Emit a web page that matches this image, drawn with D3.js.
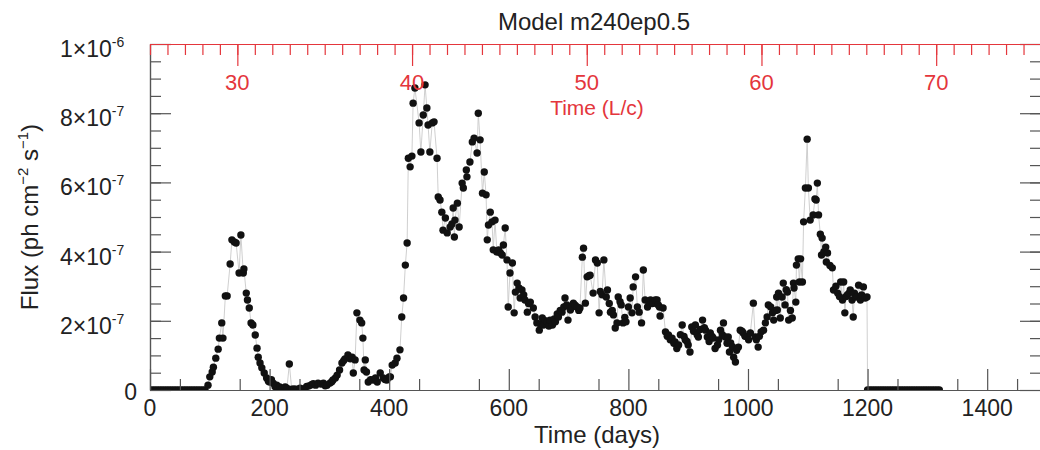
<!DOCTYPE html>
<html>
<head>
<meta charset="utf-8">
<script src="https://cdn.jsdelivr.net/npm/d3@7"></script>
<style>
body { margin: 0; background: #fff; }
text { font-family: "Liberation Sans", Arial, Helvetica, sans-serif; }
</style>
</head>
<body>
<svg id="chart" width="1040" height="450"></svg>
<script>
// light curve: time in days, flux in units of 1e-7 ph cm^-2 s^-1
var days = [
	0, 4, 8, 12, 16, 20, 24, 28, 32, 36, 40, 44, 48, 52, 56, 60, 64, 68, 72, 76, 80, 84, 88, 92,
	97, 100, 104, 106, 110, 114, 116, 120, 122, 126, 129, 134, 137, 141, 144, 149, 152, 156, 157,
	161, 163, 166, 169, 172, 176, 179, 181, 184, 187, 191, 195, 198, 200, 203, 206, 209, 212, 215,
	217, 221, 226, 229, 233, 237, 241, 246, 251, 256, 262, 266, 270, 273, 277, 281, 286, 290, 293,
	296, 301, 304, 306, 310, 313, 317, 321, 324, 326, 331, 335, 338, 340, 343, 346, 351, 354, 356,
	358, 360, 362, 365, 369, 373, 377, 380, 385, 390, 393, 396, 400, 402, 405, 410, 413, 418, 421,
	424, 427, 430, 432, 435, 438, 440, 443, 450, 453, 457, 460, 463, 465, 468, 472, 475, 480, 482,
	485, 488, 490, 494, 497, 502, 505, 507, 509, 510, 514, 517, 522, 524, 529, 530, 535, 539, 542,
	547, 549, 552, 556, 559, 562, 564, 566, 569, 572, 574, 577, 580, 583, 586, 589, 591, 594, 597,
	599, 602, 606, 609, 611, 614, 617, 619, 622, 625, 627, 631, 633, 636, 641, 644, 647, 651, 653,
	656, 658, 661, 664, 667, 669, 673, 676, 678, 681, 683, 686, 689, 692, 694, 697, 699, 703, 706,
	708, 711, 714, 717, 719, 723, 725, 728, 731, 734, 736, 741, 745, 748, 751, 753, 756, 759, 763,
	765, 768, 770, 773, 775, 778, 781, 783, 786, 788, 791, 794, 796, 800, 803, 806, 808, 812, 815,
	818, 822, 825, 828, 832, 834, 837, 840, 842, 845, 848, 850, 852, 853, 858, 862, 865, 867, 870,
	873, 876, 878, 881, 884, 887, 890, 893, 895, 898, 900, 903, 906, 909, 912, 915, 917, 920, 924,
	927, 929, 932, 935, 937, 940, 942, 945, 949, 951, 954, 957, 959, 962, 965, 967, 969, 971, 974,
	976, 979, 981, 984, 987, 990, 992, 995, 999, 1001, 1004, 1009, 1012, 1014, 1017, 1019, 1022,
	1026, 1029, 1032, 1034, 1038, 1041, 1043, 1046, 1048, 1049, 1051, 1054, 1057, 1059, 1062, 1064,
	1066, 1068, 1071, 1074, 1076, 1077, 1080, 1081, 1084, 1086, 1088, 1091, 1093, 1096, 1099, 1101,
	1104, 1109, 1112, 1114, 1116, 1118, 1121, 1123, 1124, 1127, 1130, 1131, 1133, 1137, 1141, 1143,
	1147, 1150, 1153, 1155, 1158, 1160, 1162, 1164, 1166, 1169, 1171, 1174, 1176, 1178, 1180, 1183,
	1185, 1188, 1190, 1193, 1196, 1199,
	1200, 1204, 1208, 1212, 1216, 1220, 1224, 1228, 1232, 1236, 1240, 1244, 1248, 1252, 1256, 1260,
	1264, 1268, 1272, 1276, 1280, 1284, 1288, 1292, 1296, 1300, 1304, 1308, 1312, 1316, 1320
];
var flux = [
	0, 0, 0, 0, 0, 0, 0, 0, 0, 0, 0, 0, 0, 0, 0, 0, 0, 0, 0, 0, 0, 0, 0, 0,
	0.14, 0.38, 0.52, 0.66, 0.92, 1.18, 1.5, 1.94, 1.5, 2.72, 2.72, 3.64, 4.34, 4.28, 4.25, 3.38, 4.48, 3.38, 3.5,
	2.8, 2.6, 2.37, 1.94, 1.88, 1.59, 1.21, 0.95, 0.78, 0.64, 0.49, 0.35, 0.25, 0.23, 0.3, 0.2, 0.1, 0.14, 0.05,
	0.09, 0.03, 0.09, 0.05, 0.75, 0.02, 0.03, 0.02, 0.05, 0.03, 0.1, 0.12, 0.15, 0.18, 0.14, 0.2, 0.17, 0.2, 0.12,
	0.14, 0.2, 0.24, 0.29, 0.35, 0.43, 0.58, 0.78, 0.85, 0.9, 1.01, 0.9, 0.95, 0.49, 0.87, 2.23, 2.02, 1.94, 1.5,
	0.58, 0.87, 0.52, 0.23, 0.3, 0.29, 0.35, 0.23, 0.49, 0.35, 0.3, 0.29, 0.38, 0.38, 0.72, 0.78, 0.92, 1.16, 2.11,
	2.66, 3.61, 4.25, 6.7, 6.45, 6.76, 8.29, 8.73, 7.72, 6.88, 7.95, 8.82, 8.15, 7.66, 6.88, 7.72, 7.75, 6.7, 5.58,
	5.49, 5.14, 4.62, 4.97, 4.54, 4.71, 4.8, 5.26, 4.42, 4.91, 5.4, 4.71, 5.98, 5.84, 6.36, 6.16, 6.59, 7.17, 7.28,
	6.85, 8.0, 7.23, 5.69, 6.3, 5.64, 4.34, 4.77, 5.14, 4.86, 4.05, 4.91, 3.99, 4.05, 3.96, 3.9, 4.19, 4.68, 3.76,
	2.4, 3.38, 3.67, 2.23, 2.83, 3.09, 2.95, 2.66, 2.89, 2.75, 2.6, 2.25, 2.5, 2.54, 2.37, 2.11, 1.94, 1.73, 1.9,
	2.08, 1.88, 2.0, 1.97, 1.85, 2.02, 1.88, 2.05, 1.97, 2.2, 2.11, 2.3, 2.25, 2.4, 2.66, 2.46, 2.02, 2.31, 2.4,
	2.51, 2.45, 2.4, 2.3, 2.37, 3.84, 4.1, 2.51, 3.27, 3.3, 3.32, 2.8, 3.76, 3.67, 2.23, 2.85, 2.75, 3.76, 2.69,
	2.89, 2.5, 2.25, 2.3, 2.17, 1.79, 1.94, 2.69, 2.55, 2.46, 1.94, 2.1, 1.97, 2.4, 2.66, 2.23, 2.98, 3.27, 2.4,
	2.25, 1.94, 3.47, 2.6, 2.4, 2.55, 2.6, 2.5, 2.51, 2.6, 2.6, 2.46, 2.4, 2.14, 2.37, 1.68, 1.55, 1.59, 1.45,
	1.5, 1.35, 1.39, 1.2, 1.3, 1.6, 1.88, 1.55, 1.45, 1.4, 1.3, 1.1, 1.82, 1.7, 1.88, 1.6, 1.53, 1.75, 2.02,
	1.8, 1.73, 1.53, 1.4, 1.65, 1.55, 1.5, 1.2, 1.3, 1.45, 1.73, 1.6, 1.94, 1.53, 1.35, 1.53, 1.1, 1.36, 1.25,
	0.95, 0.81, 1.15, 1.24, 1.73, 1.7, 1.65, 1.55, 1.53, 1.45, 1.65, 2.51, 1.53, 1.45, 1.24, 1.55, 1.68,
	1.73, 1.94, 2.11, 2.46, 2.4, 2.23, 2.02, 2.3, 2.69, 2.31, 2.8, 2.08, 2.69, 3.09, 2.46, 2.9,
	2.83, 2.02, 2.3, 2.08, 3.09, 2.95, 2.54, 3.61, 3.79, 3.12, 3.79, 3.12, 4.86, 5.84, 7.25, 5.84,
	4.91, 5.06, 5.52, 5.49, 5.98, 5.06, 4.5, 3.9, 4.39, 4.0, 4.13, 3.7, 3.96, 3.6, 3.53, 2.89,
	3.0, 2.8, 2.7, 3.12, 2.6, 3.12, 2.23, 2.7, 2.75, 2.8, 2.89, 2.6, 2.11, 2.8, 2.69, 2.7,
	3.03, 2.6, 2.75, 2.98, 2.66, 2.69,
	0, 0, 0, 0, 0, 0, 0, 0, 0, 0, 0, 0, 0, 0, 0, 0,
	0, 0, 0, 0, 0, 0, 0, 0, 0, 0, 0, 0, 0, 0, 0
];

// axis ticks and labels
var dayTicks = [0, 200, 400, 600, 800, 1000, 1200, 1400];
var dayTickLabels = ['0', '200', '400', '600', '800', '1000', '1200', '1400'];
var lcTicks = [30, 40, 50, 60, 70];
var lcTickLabels = ['30', '40', '50', '60', '70'];
var fluxTicks = [0, 2e-7, 4e-7, 6e-7, 8e-7, 1e-6];
var fluxTickBase = ['0', '2\u00d710', '4\u00d710', '6\u00d710', '8\u00d710', '1\u00d710'];
var fluxTickExp = ['', '-7', '-7', '-7', '-7', '-6'];

var RED = '#e4363c';
var INK = '#222';

//绘图区域
var plotLeft = 150, plotRight = 1041, plotTop = 44, plotBottom = 390;

var svg = d3.select('#chart');
svg.append('rect').attr('width', 1040).attr('height', 450).style('fill', '#fff');

var x = d3.scaleLinear().domain([0, 1490]).range([plotLeft, plotRight]);
var xTop = d3.scaleLinear().domain([25, 76]).range([plotLeft, plotRight]);
var y = d3.scaleLinear().domain([0, 1e-6]).range([plotBottom, plotTop]);

var points = days.map(function(d, i) {
	return { day: d, flux: flux[i] * 1e-7 };
});

svg.append('clipPath').attr('id', 'plotClip')
	.append('rect')
	.attr('x', plotLeft)
	.attr('y', plotTop)
	.attr('width', plotRight - plotLeft)
	.attr('height', plotBottom - plotTop);

var plot = svg.append('g').attr('clip-path', 'url(#plotClip)');

//连接线
plot.append('path')
	.datum(points)
	.attr('d', d3.line()
		.x(function(d) { return x(d.day); })
		.y(function(d) { return y(d.flux); }))
	.attr('fill', 'none')
	.attr('stroke', '#c9c9c9')
	.attr('stroke-width', 0.9);

//数据点
plot.selectAll('circle')
	.data(points)
	.enter()
	.append('circle')
	.attr('cx', function(d) { return x(d.day); })
	.attr('cy', function(d) { return y(d.flux); })
	.attr('r', 3.7)
	.attr('fill', '#111');

// draw an axis group and colour it
function drawAxis(axis, tx, ty, colour) {
	var g = svg.append('g')
		.attr('transform', 'translate(' + tx + ',' + ty + ')')
		.call(axis);
	g.selectAll('text').remove();
	g.selectAll('path, line').attr('stroke', colour).attr('stroke-width', 1.2);
	return g;
}

// bottom / left / right axes, ticks pointing inwards
drawAxis(d3.axisBottom(x).tickValues(dayTicks).tickSize(-21).tickSizeOuter(0), 0, plotBottom, '#555');
drawAxis(d3.axisBottom(x).tickValues(d3.range(50, 1490, 100)).tickSize(-11).tickSizeOuter(0), 0, plotBottom, '#555');
drawAxis(d3.axisLeft(y).tickValues(fluxTicks).tickSize(-21).tickSizeOuter(0), plotLeft, 0, '#555');
drawAxis(d3.axisLeft(y).tickValues(d3.range(0.5e-7, 1e-6, 0.5e-7)).tickSize(-11).tickSizeOuter(0), plotLeft, 0, '#555');
drawAxis(d3.axisRight(y).tickValues(fluxTicks).tickSize(-21).tickSizeOuter(0), plotRight, 0, '#555');
drawAxis(d3.axisRight(y).tickValues(d3.range(0.5e-7, 1e-6, 0.5e-7)).tickSize(-11).tickSizeOuter(0), plotRight, 0, '#555');

// top axis in light-crossing times
drawAxis(d3.axisTop(xTop).tickValues(lcTicks).tickSize(-22).tickSizeOuter(0), 0, plotTop, RED);
drawAxis(d3.axisTop(xTop).tickValues(d3.range(25, 77, 1)).tickSize(-11).tickSizeOuter(0), 0, plotTop, RED);

//刻度文字
svg.append('g').selectAll('text')
	.data(dayTicks)
	.enter()
	.append('text')
	.attr('x', function(d) { return x(d); })
	.attr('y', 416)
	.attr('text-anchor', 'middle')
	.attr('font-size', 23)
	.attr('fill', INK)
	.text(function(d, i) { return dayTickLabels[i]; });

svg.append('g').selectAll('text')
	.data(lcTicks)
	.enter()
	.append('text')
	.attr('x', function(d) { return xTop(d); })
	.attr('y', 90)
	.attr('text-anchor', 'middle')
	.attr('font-size', 22)
	.attr('fill', RED)
	.text(function(d, i) { return lcTickLabels[i]; });

var yLabels = svg.append('g').selectAll('text')
	.data(fluxTicks)
	.enter()
	.append('text')
	.attr('x', function(d, i) { return fluxTickExp[i] ? 60 : 137; })
	.attr('y', function(d, i) { return y(d) + (fluxTickExp[i] ? 13 : 10); })
	.attr('text-anchor', function(d, i) { return fluxTickExp[i] ? 'start' : 'end'; })
	.attr('font-size', 23)
	.attr('fill', INK);
yLabels.append('tspan').text(function(d, i) { return fluxTickBase[i]; });
yLabels.append('tspan')
	.attr('dy', -10)
	.attr('font-size', 14)
	.text(function(d, i) { return fluxTickExp[i]; });

//标题
svg.append('text')
	.attr('x', 594).attr('y', 30)
	.attr('text-anchor', 'middle')
	.attr('font-size', 24)
	.attr('fill', INK)
	.text('Model m240ep0.5');

svg.append('text')
	.attr('x', 597).attr('y', 443)
	.attr('text-anchor', 'middle')
	.attr('font-size', 24)
	.attr('fill', INK)
	.text('Time (days)');

svg.append('text')
	.attr('x', 597).attr('y', 115)
	.attr('text-anchor', 'middle')
	.attr('font-size', 21)
	.attr('fill', RED)
	.text('Time (L/c)');

var yTitle = svg.append('text')
	.attr('transform', 'translate(38,217) rotate(-90)')
	.attr('text-anchor', 'middle')
	.attr('font-size', 24)
	.attr('fill', INK);
yTitle.append('tspan').text('Flux (ph cm');
yTitle.append('tspan').attr('dy', -10).attr('font-size', 15).text('\u22122');
yTitle.append('tspan').attr('dy', 10).text(' s');
yTitle.append('tspan').attr('dy', -10).attr('font-size', 15).text('\u22121');
yTitle.append('tspan').attr('dy', 10).text(')');
</script>
</body>
</html>
